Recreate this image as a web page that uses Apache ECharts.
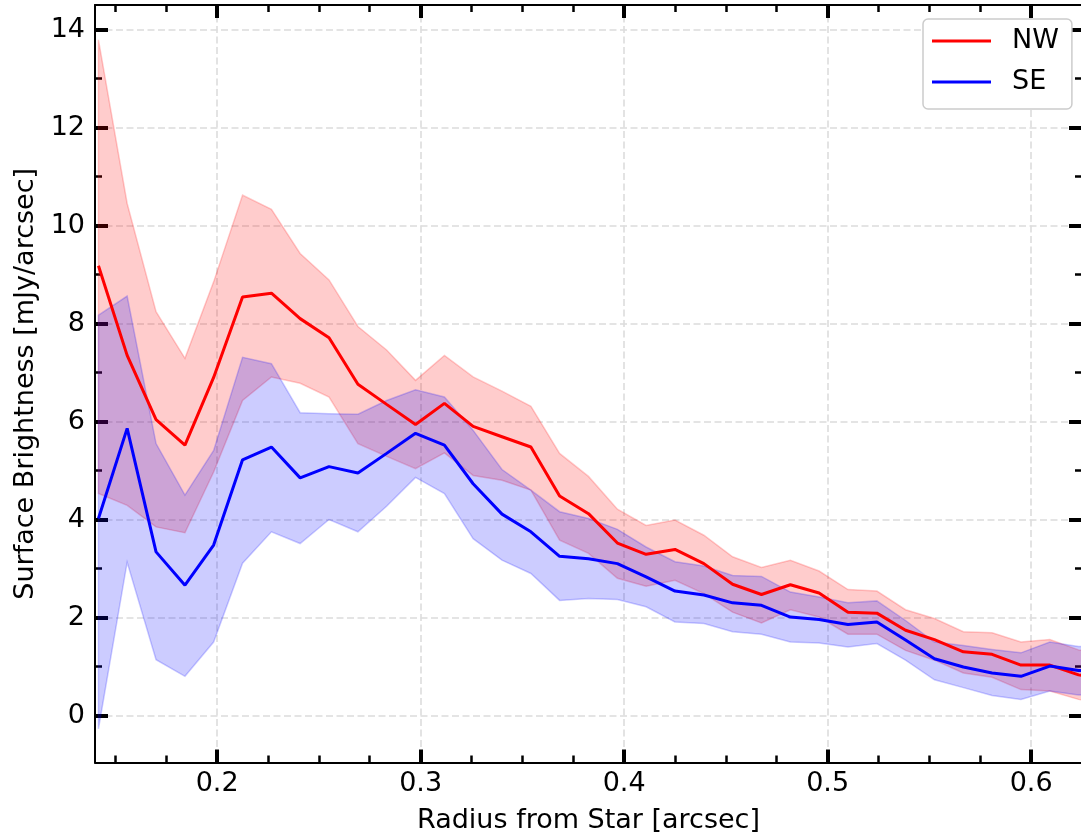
<!DOCTYPE html>
<html>
<head>
<meta charset="utf-8">
<script src="https://cdn.jsdelivr.net/npm/echarts@6/dist/echarts.min.js"></script>
<style>
html,body{margin:0;padding:0;background:#fff;}
#chart{width:1081px;height:839px;}
</style>
</head>
<body>
<div id="chart"></div>
<script>
// ---- data ----
const radius = [0.1417, 0.1558, 0.1700, 0.1842, 0.1983, 0.2125, 0.2267, 0.2408, 0.2550, 0.2692,
  0.2833, 0.2975, 0.3117, 0.3258, 0.3400, 0.3542, 0.3683, 0.3825, 0.3967, 0.4108,
  0.4250, 0.4392, 0.4533, 0.4675, 0.4817, 0.4958, 0.5100, 0.5242, 0.5383, 0.5525,
  0.5667, 0.5808, 0.5950, 0.6092, 0.6233, 0.6375];

const nwMean = [9.18, 7.35, 6.04, 5.52, 6.90, 8.54, 8.62, 8.10, 7.71, 6.76,
  6.35, 5.94, 6.37, 5.90, 5.69, 5.48, 4.48, 4.12, 3.52, 3.29,
  3.39, 3.10, 2.68, 2.47, 2.67, 2.50, 2.11, 2.09, 1.74, 1.55,
  1.30, 1.25, 1.03, 1.03, 0.83, 0.75];
const nwLower = [4.53, 4.29, 3.85, 3.73, 4.97, 6.43, 6.91, 6.78, 6.50, 5.55,
  5.29, 5.04, 5.36, 4.90, 4.80, 4.60, 3.58, 3.31, 2.80, 2.64,
  2.76, 2.49, 2.11, 1.89, 2.16, 2.01, 1.66, 1.66, 1.33, 1.13,
  0.87, 0.78, 0.53, 0.50, 0.33, 0.25];
const nwUpper = [13.79, 10.45, 8.24, 7.29, 8.85, 10.62, 10.33, 9.43, 8.89, 7.94,
  7.46, 6.84, 7.35, 6.91, 6.62, 6.31, 5.35, 4.88, 4.21, 3.88,
  3.99, 3.68, 3.24, 3.02, 3.17, 2.95, 2.57, 2.54, 2.16, 1.98,
  1.71, 1.69, 1.50, 1.55, 1.34, 1.25];

const seMean = [4.02, 5.86, 3.34, 2.66, 3.48, 5.22, 5.48, 4.85, 5.08, 4.95,
  5.35, 5.76, 5.52, 4.73, 4.11, 3.75, 3.25, 3.20, 3.10, 2.83,
  2.54, 2.46, 2.30, 2.25, 2.01, 1.96, 1.86, 1.91, 1.54, 1.16,
  0.99, 0.87, 0.80, 1.01, 0.92, 0.90];
const seLower = [-0.27, 3.13, 1.14, 0.80, 1.50, 3.11, 3.75, 3.51, 4.00, 3.75,
  4.27, 4.86, 4.53, 3.61, 3.17, 2.90, 2.35, 2.39, 2.37, 2.22,
  1.91, 1.88, 1.71, 1.66, 1.50, 1.48, 1.40, 1.47, 1.13, 0.73,
  0.57, 0.41, 0.33, 0.50, 0.42, 0.40];
const seUpper = [8.17, 8.56, 5.55, 4.50, 5.41, 7.31, 7.18, 6.18, 6.16, 6.15,
  6.43, 6.65, 6.50, 5.82, 5.02, 4.60, 4.16, 4.02, 3.80, 3.44,
  3.14, 3.05, 2.86, 2.84, 2.52, 2.42, 2.30, 2.34, 1.94, 1.50,
  1.43, 1.35, 1.28, 1.50, 1.41, 1.40];

const xMajorTicks = [0.2, 0.3, 0.4, 0.5, 0.6];
const xMinorTicks = [0.15, 0.175, 0.225, 0.25, 0.275, 0.325, 0.35, 0.375,
  0.425, 0.45, 0.475, 0.525, 0.55, 0.575];
const yMajorTicks = [0, 2, 4, 6, 8, 10, 12, 14];
const yMinorTicks = [1, 3, 5, 7, 9, 11, 13];

const seriesNames = ['NW', 'SE'];
const xTitle = 'Radius from Star [arcsec]';
const yTitle = 'Surface Brightness [mJy/arcsec]';

// ---- chart ----
const FONT = 'DejaVu Sans';
const X_MIN = 0.14, X_MAX = 0.625, Y_MIN = -0.96, Y_MAX = 14.5;

function pairs(ys) { return radius.map((r, i) => [r, ys[i]]); }

function band(lower, upper, fill, edge, z) {
  return {
    type: 'custom', xAxisIndex: 0, yAxisIndex: 0, silent: true, clip: true, z: z,
    data: [0],
    renderItem: function (params, api) {
      const top = radius.map((r, i) => api.coord([r, upper[i]]));
      const bot = radius.map((r, i) => api.coord([r, lower[i]])).reverse();
      return {
        type: 'polygon',
        shape: { points: top.concat(bot) },
        style: { fill: fill, stroke: edge, lineWidth: 1.5 }
      };
    }
  };
}

function xAx(pos, ticks, len, width, main) {
  return {
    type: 'value', position: pos, min: X_MIN, max: X_MAX,
    name: main && pos === 'bottom' ? xTitle : '',
    nameLocation: 'middle', nameGap: 45,
    nameTextStyle: { fontFamily: FONT, fontSize: 27, color: '#000' },
    axisLine: { show: main, onZero: false, lineStyle: { color: '#000', width: 2 } },
    axisTick: { show: true, inside: true, length: len, customValues: ticks,
      lineStyle: { color: '#000', width: width } },
    axisLabel: { show: main && pos === 'bottom', customValues: ticks, margin: 8,
      fontFamily: FONT, fontSize: 27, color: '#000',
      formatter: v => v.toFixed(1) },
    splitLine: { show: main && pos === 'bottom',
      lineStyle: { color: '#dcdcdc', width: 1.6, type: [7, 3.5] } },
    minorTick: { show: false }
  };
}
function yAx(pos, ticks, len, width, main) {
  return {
    type: 'value', position: pos, min: Y_MIN, max: Y_MAX,
    name: main && pos === 'left' ? yTitle : '',
    nameLocation: 'middle', nameGap: 56,
    nameTextStyle: { fontFamily: FONT, fontSize: 27, color: '#000' },
    axisLine: { show: main && pos === 'left', onZero: false, lineStyle: { color: '#000', width: 2 } },
    axisTick: { show: true, inside: true, length: len, customValues: ticks,
      lineStyle: { color: '#000', width: width } },
    axisLabel: { show: main && pos === 'left', customValues: ticks, margin: 10,
      fontFamily: FONT, fontSize: 27, color: '#000',
      formatter: v => String(Math.round(v)) },
    splitLine: { show: main && pos === 'left',
      lineStyle: { color: '#dcdcdc', width: 1.6, type: [7, 3.5] } },
    minorTick: { show: false }
  };
}

const option = {
  animation: false,
  backgroundColor: '#ffffff',
  textStyle: { fontFamily: FONT },
  grid: { left: 95, top: 5, width: 987, height: 757.6, containLabel: false, outerBoundsMode: 'none' },
  xAxis: [
    xAx('bottom', xMajorTicks, 13, 4, true),
    xAx('bottom', xMinorTicks, 7, 2.5, false),
    xAx('top', xMajorTicks, 13, 4, true),
    xAx('top', xMinorTicks, 7, 2.5, false)
  ],
  yAxis: [
    yAx('left', yMajorTicks, 13, 4, true),
    yAx('left', yMinorTicks, 7, 2.5, false),
    yAx('right', yMajorTicks, 13, 4, true),
    yAx('right', yMinorTicks, 7, 2.5, false)
  ],
  legend: {
    data: seriesNames,
    orient: 'vertical',
    left: 923, top: 19,
    icon: 'rect', itemWidth: 59, itemHeight: 3, itemGap: 11,
    padding: [7, 13, 12, 9],
    backgroundColor: '#ffffff',
    borderColor: '#cccccc', borderWidth: 1.5, borderRadius: 5,
    textStyle: { fontFamily: FONT, fontSize: 27, color: '#000', lineHeight: 30, padding: [0, 0, 0, 16] }
  },
  series: [
    band(nwLower, nwUpper, 'rgba(255,0,0,0.2)', 'rgba(255,0,0,0.2)', 1),
    band(seLower, seUpper, 'rgba(0,0,255,0.2)', 'rgba(0,0,255,0.2)', 2),
    { name: seriesNames[0], type: 'line', xAxisIndex: 0, yAxisIndex: 0, data: pairs(nwMean),
      showSymbol: false, symbol: 'none', clip: true, z: 3,
      itemStyle: { color: '#ff0000' }, lineStyle: { color: '#ff0000', width: 3 } },
    { name: seriesNames[1], type: 'line', xAxisIndex: 0, yAxisIndex: 0, data: pairs(seMean),
      showSymbol: false, symbol: 'none', clip: true, z: 4,
      itemStyle: { color: '#0000ff' }, lineStyle: { color: '#0000ff', width: 3 } }
  ]
};

const chart = echarts.init(document.getElementById('chart'), null, { renderer: 'canvas' });
chart.setOption(option);
</script>
</body>
</html>
